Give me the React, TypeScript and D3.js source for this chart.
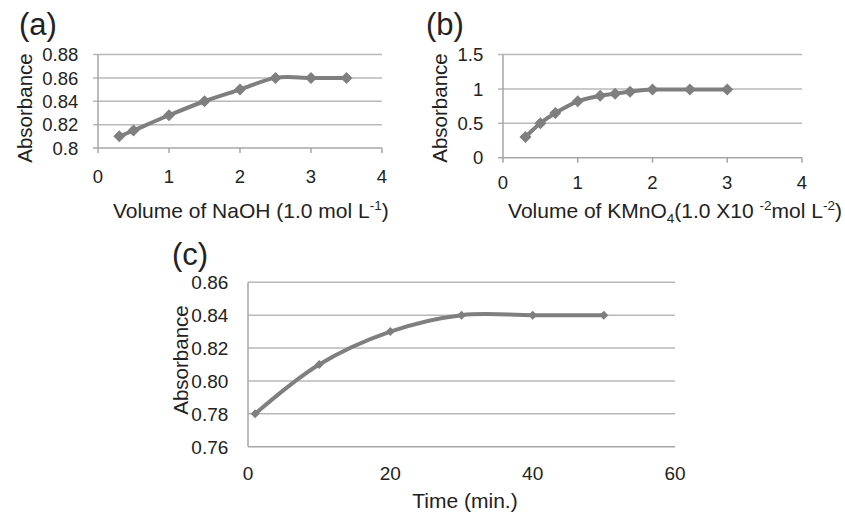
import React from "react";
import * as d3 from "d3";

// ---- Data ----
const naohVolume = [0.3, 0.5, 1, 1.5, 2, 2.5, 3, 3.5];
const naohAbs = [0.81, 0.815, 0.828, 0.84, 0.85, 0.86, 0.86, 0.86];
const naohXTicks = [0, 1, 2, 3, 4];
const naohYTicks = [0.8, 0.82, 0.84, 0.86, 0.88];

const kmnoVolume = [0.3, 0.5, 0.7, 1, 1.3, 1.5, 1.7, 2, 2.5, 3];
const kmnoAbs = [0.3, 0.5, 0.65, 0.82, 0.9, 0.93, 0.96, 0.99, 0.99, 0.99];
const kmnoXTicks = [0, 1, 2, 3, 4];
const kmnoYTicks = [0, 0.5, 1, 1.5];

const timeMin = [1, 10, 20, 30, 40, 50];
const timeAbs = [0.78, 0.81, 0.83, 0.84, 0.84, 0.84];
const timeXTicks = [0, 20, 40, 60];
const timeYTicks = [0.76, 0.78, 0.8, 0.82, 0.84, 0.86];

const FONT = "Liberation Sans, Arial, sans-serif";
const LINE = "#7f7f7f";
const GRID = "#b8b8b8";
const AXIS = "#a6a6a6";

type PanelProps = {
  xs: number[];
  ys: number[];
  xTicks: number[];
  yTicks: number[];
  xDomain: [number, number];
  yDomain: [number, number];
  xRange: [number, number];
  yRange: [number, number];
  yFmt: (v: number) => string;
  yLabelRight: number;
  xLabelBaseline: number;
  tickMarks: boolean;
  marker: number;
  tickFont: number;
};

function Panel(p: PanelProps) {
  const x = d3.scaleLinear().domain(p.xDomain).range(p.xRange);
  const y = d3.scaleLinear().domain(p.yDomain).range(p.yRange);
  const pts: [number, number][] = p.xs.map((v, i) => [x(v), y(p.ys[i])]);
  const line = d3.line().curve(d3.curveCardinal.tension(0))(pts) || "";
  const [x0, x1] = p.xRange;
  const yb = p.yRange[0];
  const m = p.marker;
  return (
    <g>
      {p.yTicks.map((t, i) =>
        i === 0 ? null : (
          <line key={"g" + t} x1={p.tickMarks ? x0 - 5 : x0} x2={x1} y1={y(t)} y2={y(t)} stroke={GRID} strokeWidth={1.5} />
        )
      )}
      {p.tickMarks && (
        <line x1={x0 - 5} x2={x0} y1={yb} y2={yb} stroke={AXIS} strokeWidth={1.5} />
      )}
      <line x1={x0} x2={x1} y1={yb} y2={yb} stroke={AXIS} strokeWidth={1.5} />
      <line x1={x0} x2={x0} y1={yb} y2={p.yRange[1]} stroke={AXIS} strokeWidth={1.5} />
      {p.tickMarks &&
        p.xTicks.map((t) => (
          <line key={"xt" + t} x1={x(t)} x2={x(t)} y1={yb} y2={yb + 5} stroke={AXIS} strokeWidth={1.5} />
        ))}
      {p.xTicks.map((t) => (
        <text key={"xl" + t} x={x(t)} y={p.xLabelBaseline} textAnchor="middle" fontSize={p.tickFont} fontFamily={FONT} fill="#222">
          {t}
        </text>
      ))}
      {p.yTicks.map((t) => (
        <text key={"yl" + t} x={p.yLabelRight} y={y(t)} dy="0.36em" textAnchor="end" fontSize={p.tickFont} fontFamily={FONT} fill="#222">
          {p.yFmt(t)}
        </text>
      ))}
      <path d={line} fill="none" stroke={LINE} strokeWidth={4} strokeLinejoin="round" />
      {pts.map(([px, py], i) => (
        <path key={"m" + i} d={`M${px},${py - m}L${px + m},${py}L${px},${py + m}L${px - m},${py}Z`} fill={LINE} />
      ))}
    </g>
  );
}

export default function App() {
  const ts = { fontFamily: FONT, fill: "#222" };
  return (
    <svg width={845} height={513} style={{ position: "absolute", left: 0, top: 0, background: "#fff" }}>
      <rect width={845} height={513} fill="#fff" />
      {/* (a) */}
      <text x={19} y={35.4} fontSize={31} {...ts}>(a)</text>
      <text transform="translate(31.7,108) rotate(-90)" textAnchor="middle" fontSize={20.5} {...ts}>Absorbance</text>
      <Panel
        xs={naohVolume}
        ys={naohAbs}
        xTicks={naohXTicks}
        yTicks={naohYTicks}
        xDomain={[0, 4]}
        yDomain={[0.8, 0.88]}
        xRange={[98, 382]}
        yRange={[148, 54.5]}
        yFmt={(v) => (v === 0.8 ? "0.8" : v.toFixed(2))}
        yLabelRight={78.3}
        xLabelBaseline={183}
        tickMarks={true}
        marker={6}
        tickFont={18.5}
      />
      <text x={250.8} y={218} textAnchor="middle" fontSize={21} {...ts}>
        Volume of NaOH (1.0 mol L<tspan fontSize={13.5} dy={-8}>-1</tspan><tspan dy={8}>)</tspan>
      </text>

      {/* (b) */}
      <text x={426} y={35.4} fontSize={31} {...ts}>(b)</text>
      <text transform="translate(446.7,108) rotate(-90)" textAnchor="middle" fontSize={20.5} {...ts}>Absorbance</text>
      <Panel
        xs={kmnoVolume}
        ys={kmnoAbs}
        xTicks={kmnoXTicks}
        yTicks={kmnoYTicks}
        xDomain={[0, 4]}
        yDomain={[0, 1.5]}
        xRange={[503, 802]}
        yRange={[157.7, 54.5]}
        yFmt={(v) => String(v)}
        yLabelRight={483.3}
        xLabelBaseline={189}
        tickMarks={true}
        marker={6}
        tickFont={18.5}
      />
      <text x={675} y={218} textAnchor="middle" fontSize={21} {...ts}>
        Volume of KMnO<tspan fontSize={13.5} dy={5}>4</tspan>
        <tspan dy={-5}>(1.0 X10 </tspan>
        <tspan fontSize={13.5} dy={-8}>-2</tspan>
        <tspan dy={8}>mol L</tspan>
        <tspan fontSize={13.5} dy={-8}>-2</tspan>
        <tspan dy={8}>)</tspan>
      </text>

      {/* (c) */}
      <text x={172} y={265.4} fontSize={31} {...ts}>(c)</text>
      <text transform="translate(188.3,360) rotate(-90)" textAnchor="middle" fontSize={20.5} {...ts}>Absorbance</text>
      <Panel
        xs={timeMin}
        ys={timeAbs}
        xTicks={timeXTicks}
        yTicks={timeYTicks}
        xDomain={[0, 60]}
        yDomain={[0.76, 0.86]}
        xRange={[248, 675]}
        yRange={[446.7, 282.3]}
        yFmt={(v) => v.toFixed(2)}
        yLabelRight={228.3}
        xLabelBaseline={480}
        tickMarks={false}
        marker={4.5}
        tickFont={19}
      />
      <text x={465} y={508} textAnchor="middle" fontSize={21} {...ts}>Time (min.)</text>
    </svg>
  );
}
